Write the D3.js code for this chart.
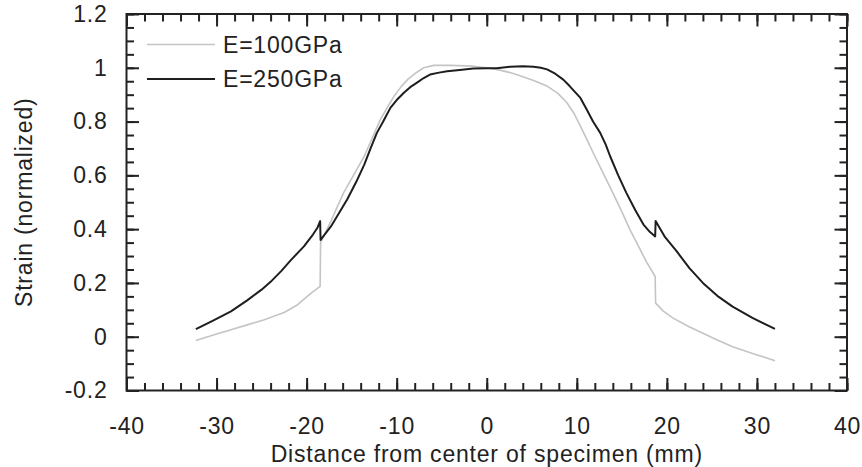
<!DOCTYPE html>
<html>

<head>
    <style>
        body {
            margin: 0;
            background: #fff;
        }

        text {
            font-family: "Liberation Sans", Arial, sans-serif;
            font-size: 23px;
            letter-spacing: 0.8px;
            fill: #222;
        }
    </style>
    <script src="https://d3js.org/d3.v7.min.js"></script>
</head>

<body>
    <svg width="862" height="467"></svg>
    <script>
        // series: distance (mm) and normalized strain
        var xSoft = [-32.3, -30, -28.4, -26.5, -24.7, -22.5, -21.0, -19.5, -18.5, -18.45, -17.3, -16.5, -15.9, -14.8, -13.6, -12.7, -11.8, -11, -10.3, -9.5, -8.8, -7.9, -7.0, -5.9, -4, -1.5, 0, 1.1, 2.5, 3.7, 5.2, 6.7, 7.9, 8.9, 9.7, 10.4, 11.1, 11.8, 12.9, 14.0, 15.0, 15.9, 16.8, 17.7, 18.7, 18.75, 19.6, 20.7, 22.3, 24.0, 25.6, 27.3, 29.6, 32.0];
        var ySoft = [-0.014, 0.01, 0.026, 0.045, 0.063, 0.09, 0.119, 0.162, 0.187, 0.35, 0.43, 0.49, 0.535, 0.6, 0.671, 0.74, 0.808, 0.855, 0.894, 0.93, 0.956, 0.98, 1.0, 1.009, 1.009, 1.006, 1.0, 0.994, 0.983, 0.97, 0.953, 0.932, 0.905, 0.87, 0.83, 0.783, 0.735, 0.685, 0.61, 0.535, 0.465, 0.398, 0.34, 0.28, 0.224, 0.125, 0.095, 0.069, 0.04, 0.013, -0.012, -0.037, -0.063, -0.089];

        var xStiff = [-32.3, -30.5, -28.4, -26.6, -25, -24, -22.8, -21.8, -20.3, -19.3, -18.8, -18.5, -18.45, -17.3, -16.4, -15.5, -14.5, -13.6, -12.9, -12.2, -11.5, -10.7, -10, -9.2, -8.5, -7.7, -7, -6.3, -5.3, -4.4, -3, -1.5, 0, 1.1, 2.6, 4, 5.2, 6, 6.7, 7.6, 8.5, 9.2, 10.4, 11.1, 11.8, 12.6, 13.2, 13.7, 14.6, 15.5, 16.5, 17.4, 18.1, 18.7, 18.75, 19.8, 21.1, 22.5, 24.0, 25.6, 27.3, 29.5, 32.0];
        var yStiff = [0.028, 0.058, 0.094, 0.135, 0.175, 0.204, 0.245, 0.283, 0.336, 0.38, 0.405, 0.43, 0.36, 0.41, 0.46, 0.51, 0.575, 0.64, 0.7, 0.758, 0.8, 0.851, 0.88, 0.907, 0.928, 0.946, 0.962, 0.975, 0.982, 0.987, 0.992, 0.997, 0.998, 0.998, 1.004, 1.006, 1.004, 1.0, 0.994, 0.978, 0.956, 0.932, 0.888, 0.845, 0.8, 0.758, 0.715, 0.671, 0.6, 0.535, 0.47, 0.417, 0.39, 0.373, 0.43, 0.37, 0.317, 0.255, 0.2, 0.152, 0.112, 0.07, 0.029];

        var seriesNames = ["E=100GPa", "E=250GPa"];
        var seriesColors = ["#c4c4c4", "#1e1e1e"];

        var xTicks = [-40, -30, -20, -10, 0, 10, 20, 30, 40];
        var yTicks = [-0.2, 0, 0.2, 0.4, 0.6, 0.8, 1, 1.2];

        var svg = d3.select("svg"),
            pl = 126.5, pr = 847, pt = 14, pb = 390.5;

        var x = d3.scaleLinear().domain([-40, 40]).range([pl, pr]),
            y = d3.scaleLinear().domain([-0.2, 1.2]).range([pb, pt]);

        var fmt = function (d) { return String(+d.toFixed(1)); };

        function drawAxis(axis, tx, ty, labels) {
            var g = svg.append("g")
                .attr("transform", "translate(" + tx + "," + ty + ")")
                .call(axis);
            g.select(".domain").remove();
            g.selectAll("line").attr("stroke", "#222").attr("stroke-width", 2);
            if (!labels) g.selectAll("text").remove();
            else g.selectAll("text").attr("fill", "#222").attr("font-size", null).attr("font-family", null);
            return g;
        }

        var xMinor = d3.range(-40, 41, 2), yMinor = d3.range(-0.2, 1.201, 0.05);

        // minor ticks on all four sides
        drawAxis(d3.axisBottom(x).tickValues(xMinor).tickSize(-7.5).tickFormat(""), 0, pb, false);
        drawAxis(d3.axisTop(x).tickValues(xMinor).tickSize(-7.5).tickFormat(""), 0, pt, false);
        drawAxis(d3.axisLeft(y).tickValues(yMinor).tickSize(-7.5).tickFormat(""), pl, 0, false);
        drawAxis(d3.axisRight(y).tickValues(yMinor).tickSize(-7.5).tickFormat(""), pr, 0, false);

        // major ticks
        drawAxis(d3.axisBottom(x).tickValues(xTicks).tickSize(-12.5).tickPadding(27).tickFormat(fmt), 0, pb, true);
        drawAxis(d3.axisTop(x).tickValues(xTicks).tickSize(-12.5).tickFormat(""), 0, pt, false);
        drawAxis(d3.axisLeft(y).tickValues(yTicks).tickSize(-12.5).tickPadding(19).tickFormat(fmt), pl, 0, true);
        drawAxis(d3.axisRight(y).tickValues(yTicks).tickSize(-12.5).tickFormat(""), pr, 0, false);

        svg.append("rect")
            .attr("x", pl).attr("y", pt)
            .attr("width", pr - pl).attr("height", pb - pt)
            .attr("fill", "none").attr("stroke", "#222").attr("stroke-width", 2);

        var line = d3.line()
            .x(function (d) { return x(d[0]); })
            .y(function (d) { return y(d[1]); });

        var series = [d3.zip(xSoft, ySoft), d3.zip(xStiff, yStiff)];
        var widths = [1.6, 2];

        series.forEach(function (s, i) {
            svg.append("path")
                .datum(s)
                .attr("fill", "none")
                .attr("stroke", seriesColors[i])
                .attr("stroke-width", widths[i])
                .attr("stroke-linejoin", "round")
                .attr("d", line);
        });

        // legend
        seriesNames.forEach(function (name, i) {
            var ly = 44.5 + i * 34.5;
            svg.append("line")
                .attr("x1", 147).attr("x2", 215)
                .attr("y1", ly).attr("y2", ly)
                .attr("stroke", seriesColors[i])
                .attr("stroke-width", widths[i]);
            svg.append("text")
                .attr("x", 223).attr("y", ly)
                .attr("dy", "0.36em")
                .text(name);
        });

        svg.append("text")
            .attr("x", (pl + pr) / 2)
            .attr("y", 462)
            .attr("text-anchor", "middle")
            .text("Distance from center of specimen (mm)");

        svg.append("text")
            .attr("transform", "translate(32," + (pt + pb) / 2 + ") rotate(-90)")
            .attr("text-anchor", "middle")
            .text("Strain (normalized)");
    </script>
</body>

</html>
